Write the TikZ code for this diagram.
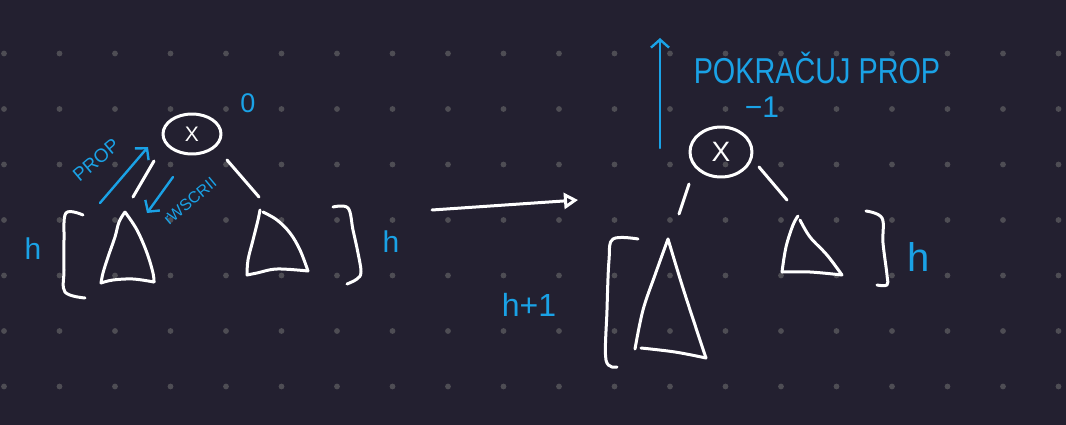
\documentclass[tikz,border=0pt]{standalone}
\usepackage{fontspec}
\setmainfont{Liberation Sans}
\usetikzlibrary{shapes.geometric,arrows.meta}
\definecolor{bgc}{RGB}{35,32,48}
\definecolor{dotc}{RGB}{78,77,84}
\definecolor{ink}{RGB}{26,162,230}
\begin{document}
\begin{tikzpicture}[x=1pt,y=-1pt,line cap=round,line join=round,
  wline/.style={white,line width=3pt},
  bline/.style={ink,line width=2.4pt},
  lbl/.style={text=ink,inner sep=0pt},
  keynode/.style={ellipse,draw=white,line width=3pt,text=white,inner sep=0pt},
  barrow/.style={bline,-{Straight Barb[length=8pt,width=18pt]}},
  warrow/.style={wline,-{Triangle[open,length=14pt,width=16pt,line width=3pt]}},
  sm/.style={smooth,tension=0.6}]
\fill[bgc] (0,0) rectangle (1066,425);
\useasboundingbox (0,0) rectangle (1066,425);
\foreach \i in {0,...,19}{\foreach \j in {0,...,6}{\fill[dotc] (4+55.5*\i,53.5+55.5*\j) circle (2.9pt);}}
% ---------- left tree ----------
\node[keynode,minimum width=58pt,minimum height=40pt,font=\fontsize{21}{21}\selectfont] (A) at (192,134) {X};
\node[lbl,font=\fontsize{27}{27}\selectfont] (zero) at (248,103) {0};
\coordinate (a1) at (154,161); \coordinate (a2) at (133,197);
\coordinate (a3) at (227,160); \coordinate (a4) at (259,197);
\draw[wline] (a1) -- (a2);
\draw[wline] (a3) -- (a4);
% left subtree
\draw[wline] plot[sm] coordinates {(125,212) (119,222) (115,237) (108,257) (103,273) (101,283)};
\draw[wline] plot[sm] coordinates {(125,212) (137,230) (147,253) (153,273) (154,282)};
\draw[wline] plot[sm] coordinates {(101,283) (113,280) (133,279) (154,282)};
% right subtree
\draw[wline] plot[sm] coordinates {(260,210) (258,220) (253,240) (248,260) (247,275)};
\draw[wline] plot[sm] coordinates {(263,212) (277,220) (290,233) (300,250) (308,271)};
\draw[wline] plot[sm] coordinates {(247,275) (257,273) (277,269) (308,271)};
% brackets
\draw[wline] plot[sm] coordinates {(83,215) (66,213) (64,240) (64,270) (65,292) (85,298)};
\draw[wline] plot[sm] coordinates {(333,207) (348,208) (353,230) (358,253) (361,272) (357,279) (347,284)};
\node[lbl,font=\fontsize{30}{30}\selectfont] (hL) at (33,249) {h};
\node[lbl,font=\fontsize{30}{30}\selectfont] (hR) at (391,242) {h};
% annotations
\coordinate (p1) at (100,203); \coordinate (p2) at (148,147);
\draw[barrow] (p1) -- (p2);
\node[lbl,rotate=40,font=\fontsize{19}{19}\selectfont] (prop) at (96,160) {PROP};
\coordinate (z1) at (173,177); \coordinate (z2) at (147,213);
\draw[barrow] (z1) -- (z2);
\node[lbl,rotate=40,font=\fontsize{16}{16}\selectfont] (zv) at (190,201) {rWSCRII};
% ---------- transition arrow ----------
\coordinate (t1) at (432,210); \coordinate (t2) at (578,200);
\draw[warrow] (t1) -- (t2);
% ---------- right tree ----------
\node[keynode,minimum width=62pt,minimum height=50pt,font=\fontsize{28}{28}\selectfont] (B) at (721,152) {X};
\node[lbl,font=\fontsize{30}{30}\selectfont] (m1) at (762,107) {−1};
\coordinate (u1) at (660,148); \coordinate (u2) at (660,38);
\draw[barrow] (u1) -- (u2);
\node[lbl,xscale=0.8,font=\fontsize{36}{36}\selectfont] (pok) at (817,68) {POKRAČUJ PROP};
\coordinate (b1) at (689,184); \coordinate (b2) at (679,214);
\coordinate (b3) at (759,167); \coordinate (b4) at (787,200);
\draw[wline] (b1) -- (b2);
\draw[wline] (b3) -- (b4);
% big left subtree
\draw[wline] plot[sm] coordinates {(668,239) (655,275) (643,310) (635,349)};
\draw[wline] plot[sm] coordinates {(668,239) (682,285) (695,325) (706,358)};
\draw[wline] plot[sm] coordinates {(641,348) (675,352) (706,358)};
% small right subtree
\draw[wline] plot[sm] coordinates {(798,216) (793,225) (786,247) (782,272)};
\draw[wline] plot[sm] coordinates {(800,220) (810,237) (827,255) (842,275)};
\draw[wline] plot[sm] coordinates {(782,272) (810,272) (842,275)};
% brackets
\draw[wline] plot[sm] coordinates {(638,239) (613,239) (609,260) (607,310) (606,360) (617,367)};
\draw[wline] plot[sm] coordinates {(866,211) (882,218) (883,243) (887,275) (887,285) (877,285)};
\node[lbl,font=\fontsize{32}{32}\selectfont] (h1) at (529,305) {h+1};
\node[lbl,font=\fontsize{40}{40}\selectfont] (hR2) at (919,257) {h};
\end{tikzpicture}
\end{document}
